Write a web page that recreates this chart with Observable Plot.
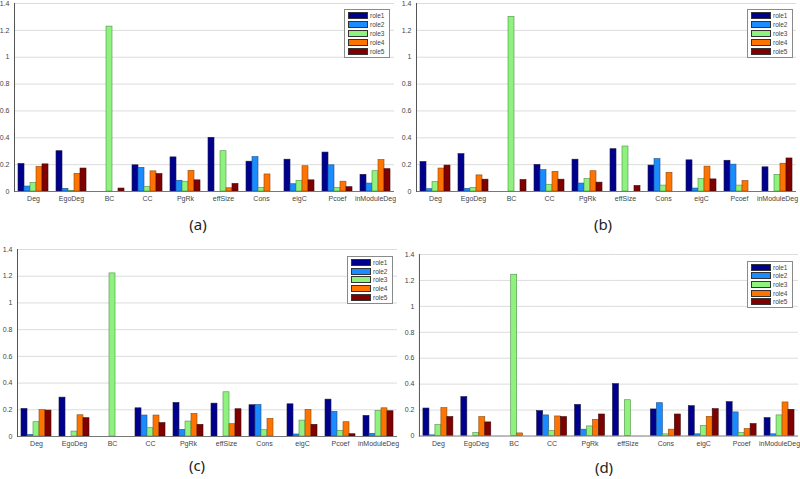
<!DOCTYPE html>
<html>
<head>
<meta charset="utf-8">
<script src="https://cdn.jsdelivr.net/npm/d3@7"></script>
<script src="https://cdn.jsdelivr.net/npm/@observablehq/plot@0.6"></script>
<style>
  html, body { margin: 0; padding: 0; background: #fff; }
  #root { position: relative; width: 800px; height: 479px; overflow: hidden; font-family: "Liberation Sans", Arial, sans-serif; }
  .panel { position: absolute; }
  .legend { position: absolute; background: #fff; border: 1px solid #8a8a8a; box-sizing: border-box; padding: 1px 3px; display: flex; flex-direction: column; }
  .legend .row { display: flex; align-items: center; flex: 1 1 0; min-height: 0; }
  .legend .sw { width: 20px; height: 7px; border: 1px solid #333; box-sizing: border-box; margin-right: 2px; }
  .legend .lb { font-size: 6.5px; line-height: 7px; color: #444; }
  .caption { position: absolute; font-family: "Noto Sans", sans-serif; font-size: 15px; color: #222; transform: translate(-50%, -50%); }
</style>
</head>
<body>
<div id="root"></div>
<script>
const categories = ["Deg", "EgoDeg", "BC", "CC", "PgRk", "effSize", "Cons", "eigC", "Pcoef", "inModuleDeg"];
const roles = ["role1", "role2", "role3", "role4", "role5"];
const roleColors = ["#00008f", "#1a8cff", "#8ff27f", "#ff7400", "#800000"];
const roleStrokes = ["#1a1a40", "#1f4f8a", "#4d8f45", "#8a4a10", "#3a0a0a"];
const yTicks = [0, 0.2, 0.4, 0.6, 0.8, 1, 1.2, 1.4];
const captions = ["(a)", "(b)", "(c)", "(d)"];

// values per panel: rows are role1..role5, columns follow categories
const panelA = [
  [0.205, 0.300, 0.000, 0.195, 0.254, 0.400, 0.222, 0.237, 0.290, 0.124],
  [0.037, 0.020, 0.000, 0.176, 0.080, 0.000, 0.256, 0.054, 0.195, 0.059],
  [0.063, 0.005, 1.228, 0.034, 0.073, 0.300, 0.027, 0.080, 0.027, 0.151],
  [0.183, 0.132, 0.000, 0.150, 0.154, 0.024, 0.127, 0.188, 0.073, 0.234],
  [0.202, 0.171, 0.022, 0.130, 0.083, 0.056, 0.000, 0.083, 0.032, 0.166]
];
const panelB = [
  [0.220, 0.278, 0.000, 0.198, 0.237, 0.315, 0.193, 0.232, 0.229, 0.180],
  [0.017, 0.020, 0.000, 0.159, 0.059, 0.000, 0.241, 0.022, 0.200, 0.000],
  [0.070, 0.027, 1.300, 0.049, 0.093, 0.335, 0.044, 0.093, 0.044, 0.124],
  [0.171, 0.120, 0.000, 0.146, 0.151, 0.000, 0.139, 0.185, 0.078, 0.207],
  [0.193, 0.088, 0.085, 0.088, 0.066, 0.041, 0.000, 0.090, 0.000, 0.246]
];
const panelC = [
  [0.206, 0.291, 0.000, 0.211, 0.251, 0.246, 0.234, 0.241, 0.276, 0.154],
  [0.012, 0.000, 0.000, 0.157, 0.050, 0.000, 0.236, 0.015, 0.184, 0.020],
  [0.107, 0.037, 1.221, 0.062, 0.112, 0.331, 0.047, 0.119, 0.042, 0.191],
  [0.197, 0.159, 0.000, 0.157, 0.169, 0.092, 0.132, 0.199, 0.107, 0.211],
  [0.194, 0.137, 0.000, 0.100, 0.087, 0.204, 0.000, 0.087, 0.017, 0.189]
];
const panelD = [
  [0.212, 0.300, 0.000, 0.192, 0.240, 0.400, 0.205, 0.230, 0.261, 0.138],
  [0.005, 0.000, 0.000, 0.159, 0.049, 0.000, 0.253, 0.013, 0.182, 0.013],
  [0.084, 0.023, 1.244, 0.038, 0.074, 0.276, 0.013, 0.077, 0.023, 0.159],
  [0.215, 0.146, 0.020, 0.151, 0.125, 0.000, 0.049, 0.148, 0.054, 0.259],
  [0.146, 0.105, 0.000, 0.146, 0.166, 0.000, 0.166, 0.207, 0.092, 0.202]
];

const panels = [panelA, panelB, panelC, panelD];
// layout: plot-area left/right/top/bottom, legend box, caption center
const layouts = [
  {x0: 14,  x1: 394, y0: 3,   y1: 191, lg: [344, 9, 46, 49],   cap: [198, 224]},
  {x0: 414, x1: 798, y0: 3,   y1: 191, lg: [747, 9, 46, 49],   cap: [603, 224]},
  {x0: 16,  x1: 398, y0: 249, y1: 436, lg: [347, 256, 46, 48], cap: [197, 465]},
  {x0: 418, x1: 799, y0: 254, y1: 436, lg: [747, 261, 46, 47], cap: [604, 467]}
];

const root = document.getElementById("root");
const mL = 22, mR = 2, mT = 6, mB = 22;

panels.forEach((vals, pi) => {
  const L = layouts[pi];
  const rows = [];
  vals.forEach((series, ri) => series.forEach((v, ci) => rows.push({cat: categories[ci], role: roles[ri], value: v})));
  const chart = Plot.plot({
    width: (L.x1 - L.x0) + mL + mR,
    height: (L.y1 - L.y0) + mT + mB,
    marginLeft: mL, marginRight: mR, marginTop: mT, marginBottom: mB,
    style: {fontFamily: "Liberation Sans, Arial, sans-serif", fontSize: "7px", color: "#444", background: "transparent"},
    fx: {domain: categories, padding: 0, paddingOuter: 0, label: null},
    x: {domain: roles, axis: null, paddingInner: 0.04, paddingOuter: 0.62},
    y: {domain: [0, 1.4], axis: null},
    color: {domain: roles, range: roleColors},
    marks: [
      Plot.gridY(yTicks.slice(1), {stroke: "#dcdcdc", strokeOpacity: 1, strokeWidth: 1}),
      Plot.barY(rows, {fx: "cat", x: "role", y: "value", fill: "role",
        stroke: d => roleStrokes[roles.indexOf(d.role)], strokeWidth: 0.6}),
      Plot.ruleY([0], {stroke: "#777", strokeWidth: 1}),
      Plot.axisY(yTicks, {anchor: "left", tickSize: 0, tickPadding: 5, fontSize: 7,
        tickFormat: d => d3.format("~g")(d), label: null}),
      Plot.frame({anchor: "left", stroke: "#555", facetAnchor: "left"}),
      Plot.axisFx({anchor: "bottom", tickSize: 0, tickPadding: 5, fontSize: 7, label: null})
    ]
  });
  const wrap = document.createElement("div");
  wrap.className = "panel";
  wrap.style.left = (L.x0 - mL) + "px";
  wrap.style.top = (L.y0 - mT) + "px";
  wrap.appendChild(chart);
  root.appendChild(wrap);

  const lg = document.createElement("div");
  lg.className = "legend";
  lg.style.left = L.lg[0] + "px";
  lg.style.top = L.lg[1] + "px";
  lg.style.width = L.lg[2] + "px";
  lg.style.height = L.lg[3] + "px";
  roles.forEach((r, i) => {
    const row = document.createElement("div");
    row.className = "row";
    const sw = document.createElement("div");
    sw.className = "sw";
    sw.style.background = roleColors[i];
    const lb = document.createElement("span");
    lb.className = "lb";
    lb.textContent = r;
    row.appendChild(sw);
    row.appendChild(lb);
    lg.appendChild(row);
  });
  root.appendChild(lg);

  const cap = document.createElement("div");
  cap.className = "caption";
  cap.style.left = L.cap[0] + "px";
  cap.style.top = L.cap[1] + "px";
  cap.textContent = captions[pi];
  root.appendChild(cap);
});
</script>
</body>
</html>
